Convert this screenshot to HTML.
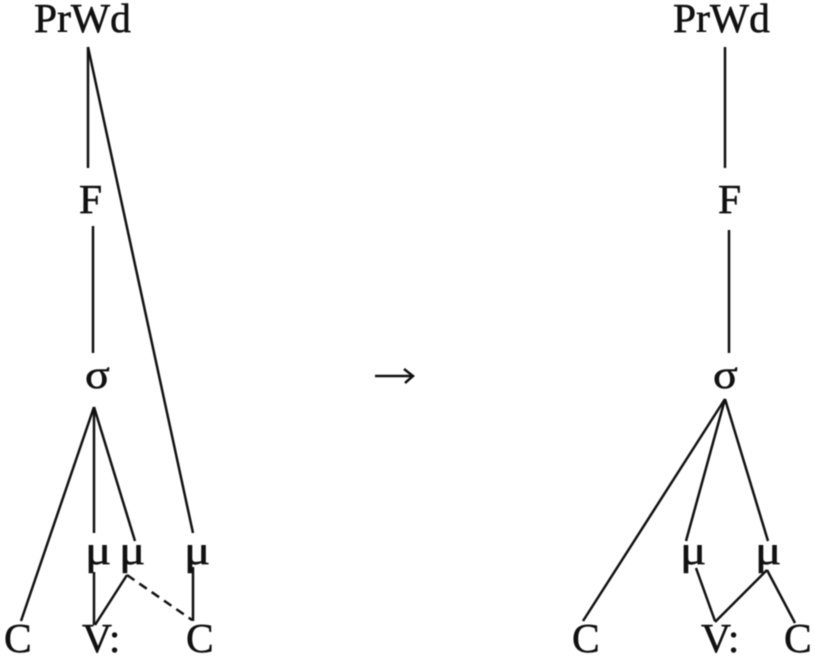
<!DOCTYPE html>
<html>
<head>
<meta charset="utf-8">
<style>
html,body{margin:0;padding:0;background:#fff;width:815px;height:656px;overflow:hidden}
svg{display:block;filter:blur(.45px)}
text{font-family:"Liberation Serif",serif;font-size:41.5px;fill:#111;stroke:#111;stroke-width:.55}
line,polyline{stroke:#111;stroke-width:2.5;fill:none}
.m{font-size:41px}
.s{font-size:40px}
</style>
</head>
<body>
<svg width="815" height="656" viewBox="0 0 815 656" xmlns="http://www.w3.org/2000/svg">
<!-- left tree -->
<text x="34" y="32">PrWd</text>
<text x="79" y="213">F</text>
<text class="s" transform="translate(85 388) scale(1.15 1)" x="0" y="0">σ</text>
<text class="m" transform="translate(85 564) scale(1.2 1)" x="0" y="0">μ</text>
<text class="m" transform="translate(119 564) scale(1.2 1)" x="0" y="0">μ</text>
<text class="m" transform="translate(184 564) scale(1.2 1)" x="0" y="0">μ</text>
<text x="4" y="652">C</text>
<text x="82" y="652">V:</text>
<text x="186" y="652">C</text>
<line x1="88" y1="47" x2="88" y2="168"/>
<line x1="88" y1="47" x2="193" y2="533"/>
<line x1="93" y1="226" x2="93" y2="353"/>
<line x1="94" y1="407" x2="21" y2="621"/>
<line x1="94" y1="407" x2="94" y2="533"/>
<line x1="94" y1="407" x2="135" y2="541"/>
<line x1="94" y1="572" x2="94" y2="625"/>
<line x1="127" y1="575" x2="95" y2="625"/>
<line x1="127" y1="575" x2="192" y2="620" stroke-dasharray="9 6"/>
<line x1="193" y1="567" x2="193" y2="621"/>
<!-- arrow -->
<line x1="375" y1="376" x2="413" y2="376"/>
<polyline points="404,369 413,376 405,383"/>
<!-- right tree -->
<text x="673" y="32">PrWd</text>
<text x="718" y="213">F</text>
<text class="s" transform="translate(713 388) scale(1.15 1)" x="0" y="0">σ</text>
<text class="m" transform="translate(680 564) scale(1.2 1)" x="0" y="0">μ</text>
<text class="m" transform="translate(755 564) scale(1.2 1)" x="0" y="0">μ</text>
<text x="572" y="652">C</text>
<text x="701" y="652">V:</text>
<text x="784" y="652">C</text>
<line x1="725" y1="47" x2="725" y2="168"/>
<line x1="729" y1="230" x2="729" y2="353"/>
<line x1="725" y1="399" x2="583" y2="621"/>
<line x1="725" y1="399" x2="686" y2="541"/>
<line x1="725" y1="399" x2="768" y2="541"/>
<line x1="696" y1="568" x2="715" y2="621"/>
<line x1="767" y1="570" x2="715" y2="622"/>
<line x1="767" y1="570" x2="795" y2="623"/>
</svg>
</body>
</html>
